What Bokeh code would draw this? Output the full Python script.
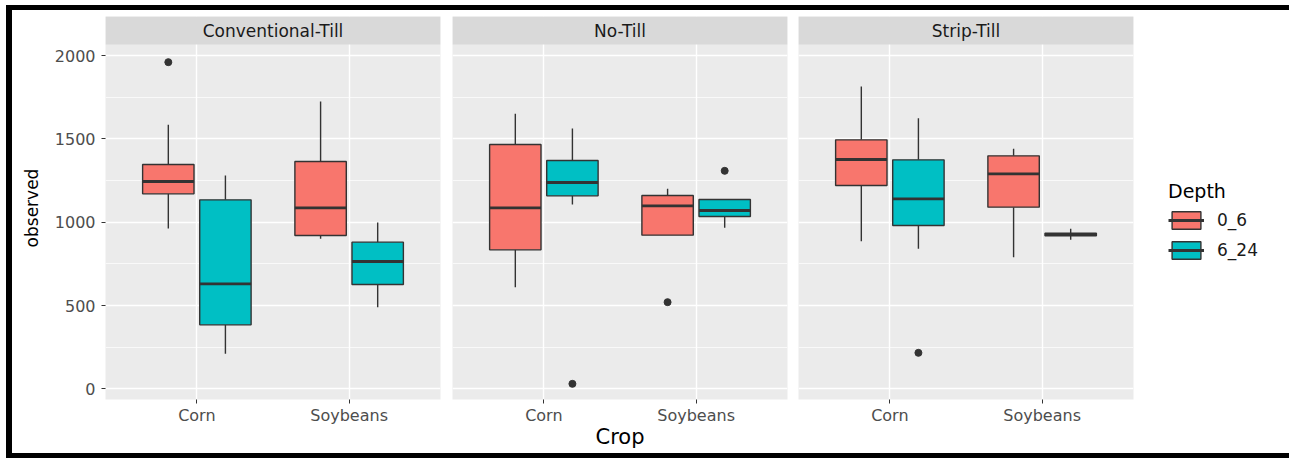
from bokeh.plotting import figure
from bokeh.layouts import row
from bokeh.models import (Range1d, FixedTicker, BoxAnnotation, Label, Legend,
                          LegendItem, ColumnDataSource, InlineStyleSheet)
from bokeh.embed import file_html
from bokeh.resources import INLINE

# ---------------- data ----------------
tillages = ["Conventional-Till", "No-Till", "Strip-Till"]
crops = ["Corn", "Soybeans"]
depths = ["0_6", "6_24"]
depth_colors = ["#F8766D", "#00BFC4"]

# box order inside each tillage panel
box_crop = ["Corn", "Corn", "Soybeans", "Soybeans"]
box_depth = ["0_6", "6_24", "0_6", "6_24"]

ct_lower = [962, 210, 900, 490]
ct_q1 = [1170, 384, 920, 626]
ct_median = [1244, 630, 1086, 764]
ct_q3 = [1346, 1134, 1364, 880]
ct_upper = [1584, 1280, 1724, 998]

nt_lower = [610, 1106, 922, 966]
nt_q1 = [834, 1158, 922, 1034]
nt_median = [1086, 1238, 1098, 1070]
nt_q3 = [1466, 1370, 1160, 1136]
nt_upper = [1650, 1562, 1200, 1136]

st_lower = [886, 840, 790, 894]
st_q1 = [1220, 980, 1090, 918]
st_median = [1376, 1140, 1290, 926]
st_q3 = [1494, 1374, 1398, 934]
st_upper = [1814, 1624, 1440, 960]

outlier_tillage = ["Conventional-Till", "No-Till", "No-Till", "No-Till", "Strip-Till"]
outlier_crop = ["Corn", "Corn", "Soybeans", "Soybeans", "Corn"]
outlier_depth = ["0_6", "6_24", "0_6", "6_24", "6_24"]
outlier_value = [1960, 30, 520, 1308, 216]

y_ticks = [0, 500, 1000, 1500, 2000]
y_minor = [250, 750, 1250, 1750]

stats = {
    "Conventional-Till": (ct_lower, ct_q1, ct_median, ct_q3, ct_upper),
    "No-Till": (nt_lower, nt_q1, nt_median, nt_q3, nt_upper),
    "Strip-Till": (st_lower, st_q1, st_median, st_q3, st_upper),
}

# ---------------- styling constants ----------------
FONT = "DejaVu Sans"
DODGE = 0.375
BOX_W = 0.3375
EDGE = "#333333"

legend_renderers = {}


def xpos(crop, depth):
    return crops.index(crop) + 1 + (depths.index(depth) - 0.5) * DODGE


def make_panel(i, till):
    first = i == 0
    last = i == len(tillages) - 1
    p = figure(frame_width=335, frame_height=383,
               x_range=Range1d(0.4, 2.6), y_range=Range1d(-64, 2234),
               output_backend="svg", toolbar_location=None,
               y_axis_location="left" if first else None,
               min_border_left=105 if first else (6 if i == 1 else 5),
               min_border_right=156 if last else 6,
               min_border_top=16, min_border_bottom=59,
               background_fill_color="#EBEBEB", border_fill_color="white",
               outline_line_color=None)

    # grids
    p.xgrid.ticker = FixedTicker(ticks=[1, 2])
    p.xgrid.grid_line_color = "white"
    p.xgrid.grid_line_width = 1.4
    p.ygrid.ticker = FixedTicker(ticks=y_ticks, minor_ticks=y_minor)
    p.ygrid.grid_line_color = "white"
    p.ygrid.grid_line_width = 1.4
    p.ygrid.minor_grid_line_color = "white"
    p.ygrid.minor_grid_line_width = 0.7

    # x axis
    p.xaxis.ticker = FixedTicker(ticks=[1, 2])
    p.xaxis.major_label_overrides = {1: crops[0], 2: crops[1]}
    p.xaxis.axis_line_color = None
    p.xaxis.major_tick_line_color = EDGE
    p.xaxis.major_tick_out = 4
    p.xaxis.major_tick_in = 0
    p.xaxis.minor_tick_line_color = None
    p.xaxis.major_label_text_font = FONT
    p.xaxis.major_label_text_font_size = "16px"
    p.xaxis.major_label_text_color = "#4D4D4D"
    p.xaxis.major_label_standoff = 2
    if i == 1:
        p.xaxis.axis_label = "Crop"
        p.xaxis.axis_label_text_font = FONT
        p.xaxis.axis_label_text_font_size = "21px"
        p.xaxis.axis_label_text_font_style = "normal"
        p.xaxis.axis_label_text_color = "black"
        p.xaxis.axis_label_standoff = -3

    if first:
        p.yaxis.ticker = FixedTicker(ticks=y_ticks, minor_ticks=y_minor)
        p.yaxis.axis_line_color = None
        p.yaxis.major_tick_line_color = EDGE
        p.yaxis.major_tick_out = 4
        p.yaxis.major_tick_in = 0
        p.yaxis.minor_tick_line_color = None
        p.yaxis.major_label_text_font = FONT
        p.yaxis.major_label_text_font_size = "16px"
        p.yaxis.major_label_text_color = "#4D4D4D"
        p.yaxis.major_label_standoff = 6
        p.yaxis.axis_label = "observed"
        p.yaxis.axis_label_text_font = FONT
        p.yaxis.axis_label_text_font_size = "17px"
        p.yaxis.axis_label_text_font_style = "normal"
        p.yaxis.axis_label_text_color = "black"
        p.yaxis.axis_label_standoff = 10

    # strip
    p.add_layout(BoxAnnotation(bottom=2066, fill_color="#D9D9D9", fill_alpha=1,
                               line_color=None))
    p.add_layout(Label(x=1.5, y=2150, text=till, text_align="center",
                       text_baseline="middle", text_font=FONT,
                       text_font_size="17px", text_color="#1A1A1A"))

    lo, q1, med, q3, up = stats[till]
    for d, (dep, col) in enumerate(zip(depths, depth_colors)):
        idx = [k for k in range(len(box_depth)) if box_depth[k] == dep]
        xs = [xpos(box_crop[k], dep) for k in idx]
        src = ColumnDataSource(dict(
            x=xs,
            left=[x - BOX_W / 2 for x in xs],
            right=[x + BOX_W / 2 for x in xs],
            lower=[lo[k] for k in idx], q1=[q1[k] for k in idx],
            med=[med[k] for k in idx], q3=[q3[k] for k in idx],
            upper=[up[k] for k in idx]))
        p.segment(x0="x", y0="q3", x1="x", y1="upper", source=src,
                  line_color=EDGE, line_width=1.4)
        p.segment(x0="x", y0="q1", x1="x", y1="lower", source=src,
                  line_color=EDGE, line_width=1.4)
        b = p.vbar(x="x", width=BOX_W, top="q3", bottom="q1", source=src,
                   fill_color=col, line_color=EDGE, line_width=1.4)
        m = p.segment(x0="left", y0="med", x1="right", y1="med", source=src,
                      line_color=EDGE, line_width=2.8, line_cap="butt")
        legend_renderers[dep] = [b, m]

    oi = [k for k in range(len(outlier_value)) if outlier_tillage[k] == till]
    if oi:
        p.scatter(x=[xpos(outlier_crop[k], outlier_depth[k]) for k in oi],
                  y=[outlier_value[k] for k in oi], size=7,
                  fill_color=EDGE, line_color=EDGE)

    if last:
        items = [LegendItem(label=dep, renderers=legend_renderers[dep])
                 for dep in depths]
        leg = Legend(items=items, title="Depth", location=(35, 138),
                     glyph_width=36, glyph_height=22, spacing=8,
                     label_standoff=13, padding=4, margin=0,
                     border_line_color=None, background_fill_color="white",
                     title_text_font=FONT, title_text_font_size="19px",
                     title_text_font_style="normal", title_text_color="black",
                     title_standoff=7,
                     label_text_font=FONT, label_text_font_size="17px",
                     label_text_color="#1A1A1A")
        p.add_layout(leg, "right")
    return p


panels = [make_panel(i, t) for i, t in enumerate(tillages)]
frame_css = InlineStyleSheet(css="""
:host { position: relative; }
:host::after {
  content: "";
  position: absolute;
  left: 6px; top: 5px; right: 0px; bottom: 0px;
  border: 5px solid black;
  border-left-width: 6px;
  pointer-events: none;
  z-index: 100;
}
""")
layout = row(*panels, spacing=0, stylesheets=[frame_css])

open("out.html", "w").write(file_html(layout, INLINE))
